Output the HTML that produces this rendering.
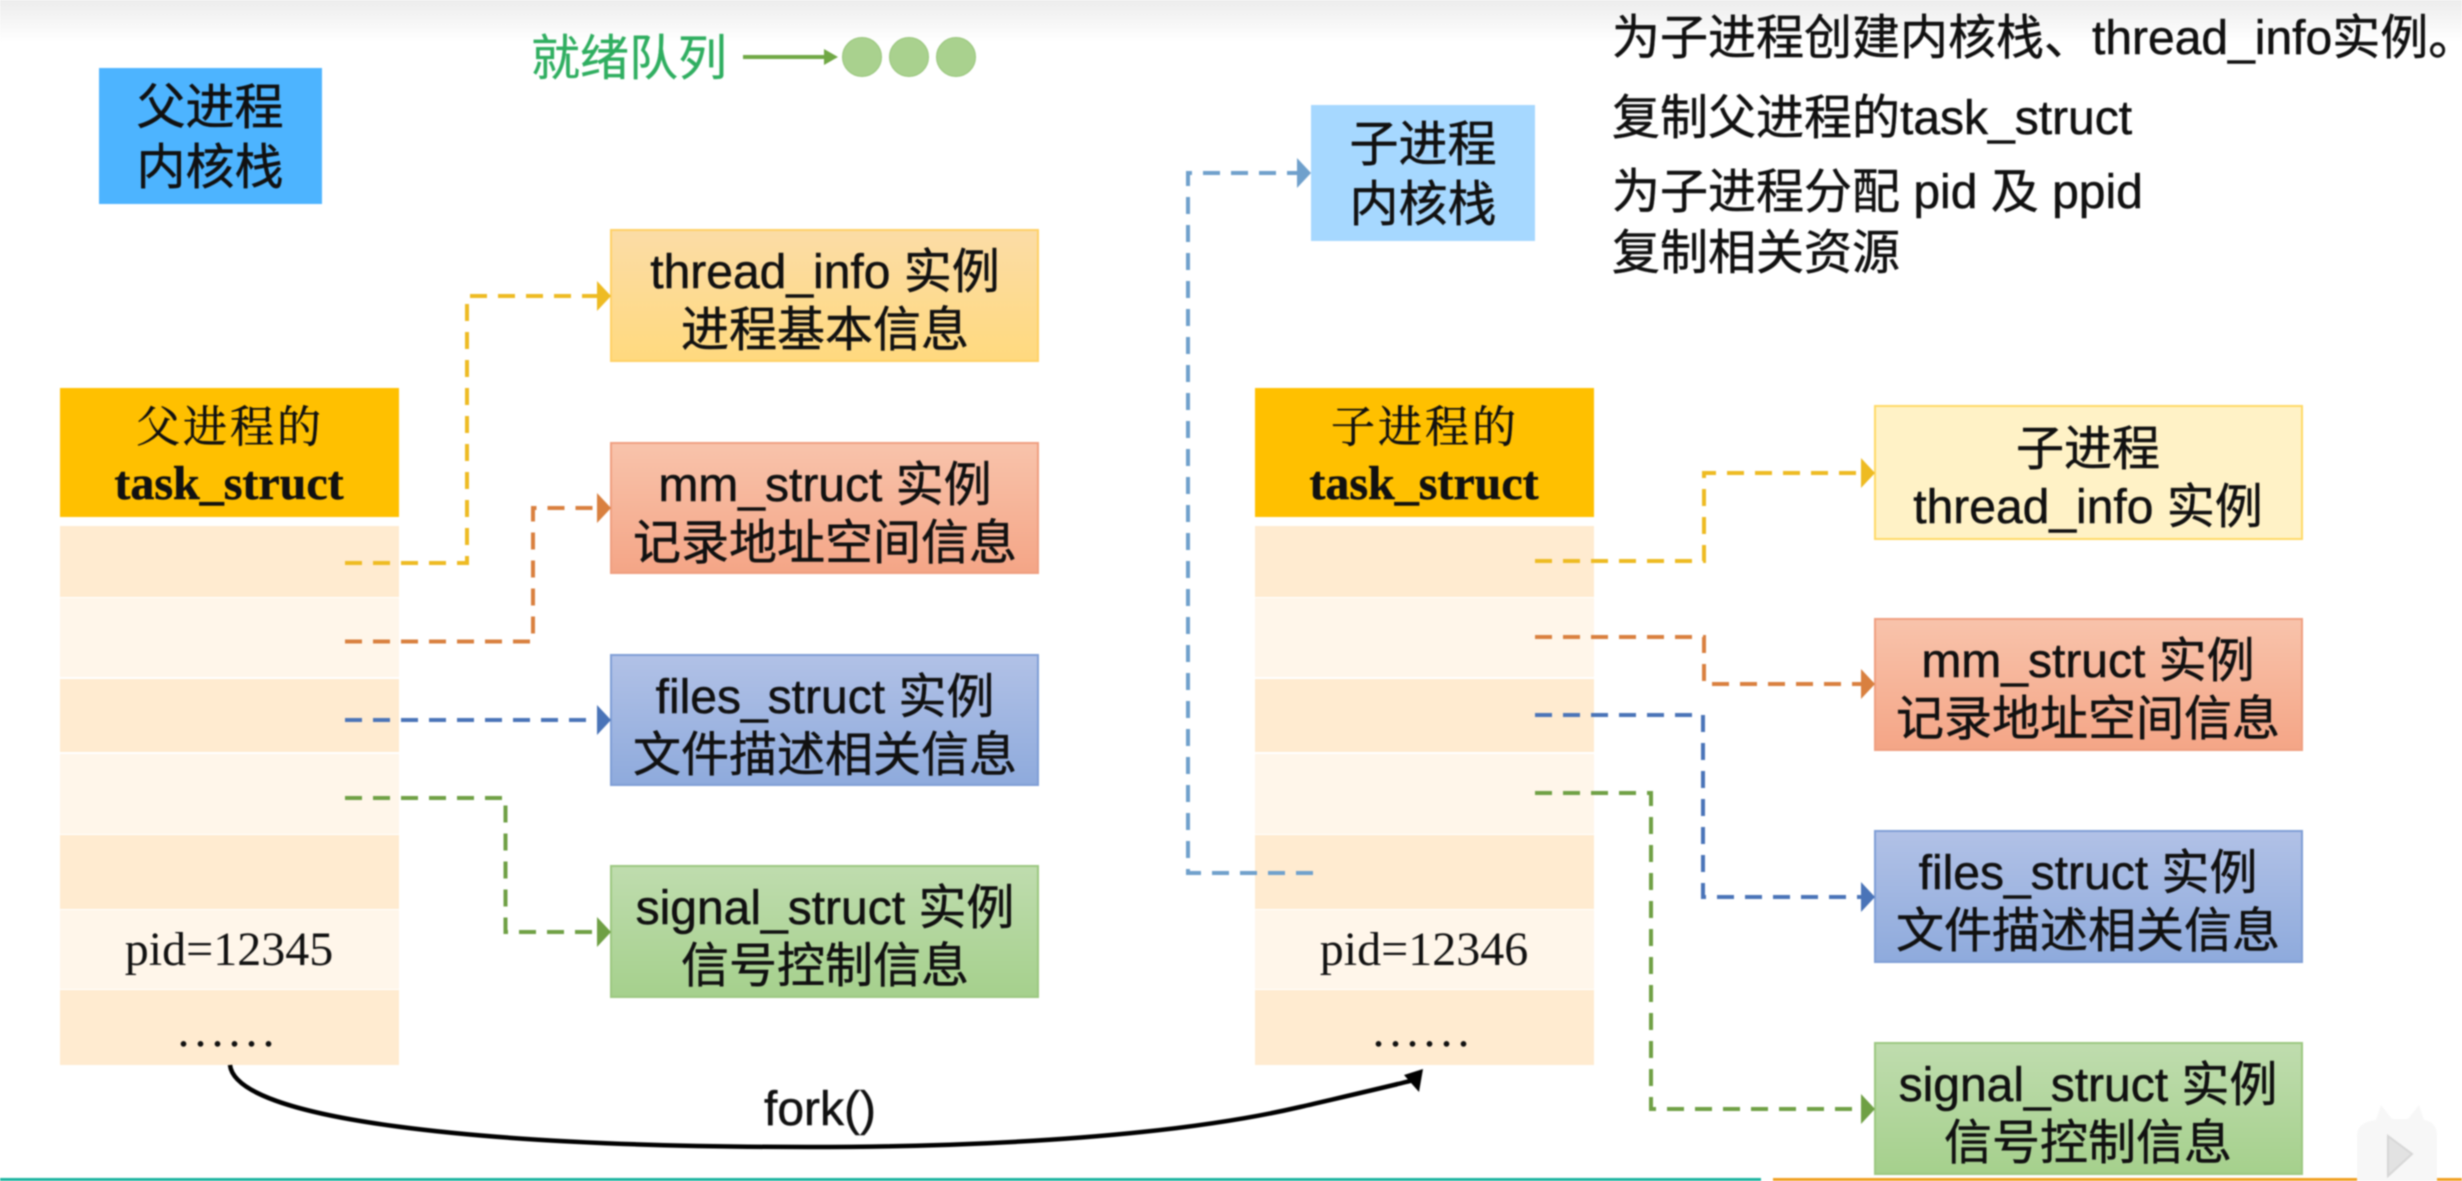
<!DOCTYPE html>
<html lang="zh"><head><meta charset="utf-8"><style>
html,body{margin:0;padding:0;background:#fff}
svg{display:block;filter:blur(.7px)}
text{font-family:"Liberation Sans","Noto Sans CJK SC",sans-serif;fill:#111;font-size:48px;text-anchor:middle;stroke:#111;stroke-width:.5px}
.s{font-family:"Liberation Serif","Noto Serif CJK SC",serif}
.l{text-anchor:start;font-size:48px}
.d{fill:none;stroke-width:4;stroke-dasharray:17 11}
</style></head><body>
<svg width="2462" height="1181" viewBox="0 0 2462 1181" xmlns="http://www.w3.org/2000/svg">
<defs>
<linearGradient id="top" x1="0" y1="0" x2="0" y2="1"><stop offset="0" stop-color="#ececec"/><stop offset="1" stop-color="#fff"/></linearGradient>
<linearGradient id="y" x1="0" y1="0" x2="0" y2="1"><stop offset="0" stop-color="#fbdca6"/><stop offset="1" stop-color="#ffd97e"/></linearGradient>
<linearGradient id="o" x1="0" y1="0" x2="0" y2="1"><stop offset="0" stop-color="#f8c3ab"/><stop offset="1" stop-color="#f4a586"/></linearGradient>
<linearGradient id="b" x1="0" y1="0" x2="0" y2="1"><stop offset="0" stop-color="#b1c1e6"/><stop offset="1" stop-color="#8eaadc"/></linearGradient>
<linearGradient id="g" x1="0" y1="0" x2="0" y2="1"><stop offset="0" stop-color="#bfdcae"/><stop offset="1" stop-color="#a5d08c"/></linearGradient>
</defs>
<rect width="2462" height="42" fill="url(#top)"/>

<!-- ready queue -->
<text x="629" y="75" style="fill:#2fae60;stroke:#2fae60;stroke-width:.3px;font-size:49px">就绪队列</text>
<path d="M743 57H828" stroke="#70a845" stroke-width="4"/><polygon points="824,49 838,57 824,65" fill="#70a845"/>
<circle cx="862" cy="57" r="19.500" fill="#a9d18e" stroke="#97c57a"/>
<circle cx="909" cy="57" r="19.500" fill="#a9d18e" stroke="#97c57a"/>
<circle cx="956" cy="57" r="19.500" fill="#a9d18e" stroke="#97c57a"/>

<!-- kernel stacks -->
<rect x="99" y="68" width="223" height="136" fill="#4db4ff"/>
<text x="210" y="124" style="font-size:49px">父进程</text><text x="210" y="184" style="font-size:49px">内核栈</text>
<rect x="1311" y="105" width="224" height="136" fill="#a6d8ff"/>
<text x="1423" y="161" style="font-size:49px">子进程</text><text x="1423" y="221" style="font-size:49px">内核栈</text>

<!-- parent task_struct -->
<rect x="60" y="388" width="339" height="129" fill="#ffc000"/>
<rect x="60" y="526" width="339" height="71" fill="#ffebd0"/>
<rect x="60" y="598" width="339" height="79" fill="#fff6ea"/>
<rect x="60" y="679" width="339" height="73" fill="#ffebd0"/>
<rect x="60" y="754" width="339" height="80" fill="#fff6ea"/>
<rect x="60" y="835" width="339" height="74" fill="#ffebd0"/>
<rect x="60" y="910" width="339" height="79" fill="#fff6ea"/>
<rect x="60" y="990" width="339" height="75" fill="#ffebd0"/>
<text class="s" x="230" y="442" style="font-size:44px;letter-spacing:3px">父进程的</text>
<text class="s" x="229" y="499" style="font-size:48px;font-weight:bold">task_struct</text>
<text class="s" x="229" y="965" style="font-size:48px;stroke-width:0">pid=12345</text>
<text class="s" x="229" y="1046" style="font-size:44px;letter-spacing:6px">......</text>

<!-- child task_struct -->
<rect x="1255" y="388" width="339" height="129" fill="#ffc000"/>
<rect x="1255" y="526" width="339" height="71" fill="#ffebd0"/>
<rect x="1255" y="598" width="339" height="79" fill="#fff6ea"/>
<rect x="1255" y="679" width="339" height="73" fill="#ffebd0"/>
<rect x="1255" y="754" width="339" height="80" fill="#fff6ea"/>
<rect x="1255" y="835" width="339" height="74" fill="#ffebd0"/>
<rect x="1255" y="910" width="339" height="79" fill="#fff6ea"/>
<rect x="1255" y="990" width="339" height="75" fill="#ffebd0"/>
<text class="s" x="1425" y="442" style="font-size:44px;letter-spacing:3px">子进程的</text>
<text class="s" x="1424" y="499" style="font-size:48px;font-weight:bold">task_struct</text>
<text class="s" x="1424" y="965" style="font-size:48px;stroke-width:0">pid=12346</text>
<text class="s" x="1424" y="1046" style="font-size:44px;letter-spacing:6px">......</text>

<!-- parent instance boxes -->
<rect x="611" y="230" width="427" height="131" fill="url(#y)" stroke="#ffd166" stroke-width="2"/>
<text x="825" y="288">thread_info 实例</text><text x="825" y="346">进程基本信息</text>
<rect x="611" y="443" width="427" height="130" fill="url(#o)" stroke="#ef9f80" stroke-width="2"/>
<text x="825" y="501">mm_struct 实例</text><text x="825" y="559">记录地址空间信息</text>
<rect x="611" y="655" width="427" height="130" fill="url(#b)" stroke="#7f9ed6" stroke-width="2"/>
<text x="825" y="713">files_struct 实例</text><text x="825" y="771">文件描述相关信息</text>
<rect x="611" y="866" width="427" height="131" fill="url(#g)" stroke="#9cc880" stroke-width="2"/>
<text x="825" y="924">signal_struct 实例</text><text x="825" y="982">信号控制信息</text>

<!-- child instance boxes -->
<rect x="1875" y="406" width="427" height="133" fill="#fff2c6" stroke="#ffd966" stroke-width="2"/>
<text x="2088" y="465">子进程</text><text x="2088" y="523">thread_info 实例</text>
<rect x="1875" y="619" width="427" height="131" fill="url(#o)" stroke="#ef9f80" stroke-width="2"/>
<text x="2088" y="677">mm_struct 实例</text><text x="2088" y="735">记录地址空间信息</text>
<rect x="1875" y="831" width="427" height="131" fill="url(#b)" stroke="#7f9ed6" stroke-width="2"/>
<text x="2088" y="889">files_struct 实例</text><text x="2088" y="947">文件描述相关信息</text>
<rect x="1875" y="1043" width="427" height="131" fill="url(#g)" stroke="#9cc880" stroke-width="2"/>
<text x="2088" y="1101">signal_struct 实例</text><text x="2088" y="1159">信号控制信息</text>

<!-- parent connectors -->
<path class="d" stroke="#eebb22" d="M345 563H467V296H600"/><polygon points="597,281 611,296 597,311" fill="#eebb22"/>
<path class="d" stroke="#d9803f" d="M345 641.500H533V508H600"/><polygon points="597,493 611,508 597,523" fill="#d9803f"/>
<path class="d" stroke="#4a74b8" d="M345 720H600"/><polygon points="597,705 611,720 597,735" fill="#4a74b8"/>
<path class="d" stroke="#6fa044" d="M345 798H505.500V932H600"/><polygon points="597,917 611,932 597,947" fill="#6fa044"/>

<!-- child connectors -->
<path class="d" stroke="#eebb22" d="M1535 561H1704V473H1864"/><polygon points="1861,458 1875,473 1861,488" fill="#eebb22"/>
<path class="d" stroke="#d9803f" d="M1535 637H1704V684H1864"/><polygon points="1861,669 1875,684 1861,699" fill="#d9803f"/>
<path class="d" stroke="#4a74b8" d="M1535 715H1703V897H1864"/><polygon points="1861,882 1875,897 1861,912" fill="#4a74b8"/>
<path class="d" stroke="#6fa044" d="M1535 793H1651V1109H1864"/><polygon points="1861,1094 1875,1109 1861,1124" fill="#6fa044"/>
<path class="d" stroke="#6fa0cc" d="M1313 873H1188V173H1300"/><polygon points="1297,158 1311,173 1297,188" fill="#6fa0cc"/>

<!-- fork arrow -->
<path d="M230 1065C236 1120 480 1147 808 1147C1000 1147 1180 1135 1300 1107C1360 1093 1395 1085 1414 1080" fill="none" stroke="#000" stroke-width="4.500"/>
<polygon points="1423,1069 1419,1092 1404,1075" fill="#000"/>
<text x="820" y="1125">fork()</text>

<!-- notes -->
<text class="l" x="1612" y="54">为子进程创建内核栈、thread_info实例。</text>
<text class="l" x="1612" y="134">复制父进程的task_struct</text>
<text class="l" x="1612" y="208">为子进程分配 pid 及 ppid</text>
<text class="l" x="1612" y="269">复制相关资源</text>

<!-- bottom bar -->
<rect x="0" y="1178" width="1761" height="3" fill="#1cb4a0"/>
<rect x="1773" y="1178" width="689" height="3" fill="#f0a020"/>

<!-- watermark -->
<path d="M2376 1120L2381 1105L2392 1119H2408L2419 1105L2424 1120Q2437 1122 2437 1136V1181H2357V1136Q2357 1122 2376 1120Z" fill="#f7f7f7"/>
<polygon points="2388,1136 2412,1154 2388,1176" fill="#e2e2e2" stroke="#d6d6d6" stroke-width="2"/>
</svg>
</body></html>
